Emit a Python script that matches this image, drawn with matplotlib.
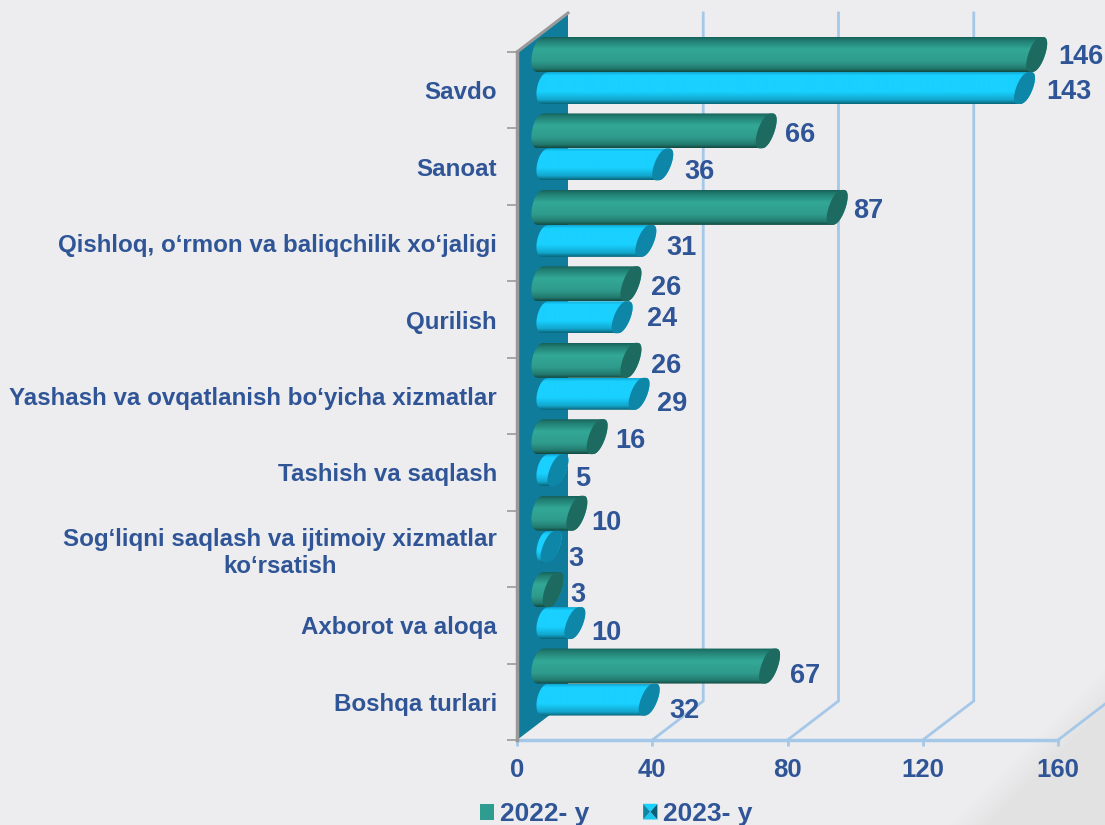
import numpy as np
import matplotlib
matplotlib.use('Agg')
import matplotlib.pyplot as plt
from matplotlib.colors import LinearSegmentedColormap
from matplotlib.patches import Patch, PathPatch, Polygon
from matplotlib.path import Path
from matplotlib.legend_handler import HandlerBase

categories = ['Savdo', 'Sanoat', 'Qishloq, o‘rmon va baliqchilik xo‘jaligi', 'Qurilish',
              'Yashash va ovqatlanish bo‘yicha xizmatlar', 'Tashish va saqlash',
              'Sog‘liqni saqlash va ijtimoiy xizmatlar\nko‘rsatish', 'Axborot va aloqa',
              'Boshqa turlari']
y2022 = [146, 66, 87, 26, 26, 16, 10, 3, 67]
y2023 = [143, 36, 31, 24, 29, 5, 3, 10, 32]
xticks = [0, 40, 80, 120, 160]

# nudges for the value labels, in pixels
nudge_x_2022 = [44, 34, 31, 35, 35, 33, 30, 25, 36]
nudge_y_2022 = [3, 4, 4, 4, 6, 4, 10, 5, 10]
nudge_x_2023 = [44, 37, 36, 40, 33, 25, 25, 32, 35]
nudge_y_2023 = [4, 8, 7, 2, 10, 9, 12, 10, 11]

BG = '#EDEDF0'
TXT = '#2F5597'
GRID = '#A6C8E8'
FONT = 'Liberation Sans'
W, H = 1105, 825
PX_L, PX_R, PX_T, PX_B = 517, 1058, 52, 740

fig = plt.figure(figsize=(W / 100, H / 100), dpi=100, facecolor=BG)

# darker diagonal corner in the lower right
bg = fig.add_axes([0, 0, 1, 1], zorder=0)
bg.axis('off')
xx, yy = np.meshgrid(np.arange(900, W), np.arange(640, H))
dist = (xx + yy - 1773) / np.sqrt(2)
shade = np.zeros(xx.shape + (4,))
shade[..., :3] = 0.89
shade[..., 3] = np.clip(dist / 30, 0, 1)
bg.imshow(shade, extent=(900, W, H, 640), aspect='auto', zorder=1)
bg.set_xlim(0, W)
bg.set_ylim(H, 0)

ax = fig.add_axes([PX_L / W, 1 - PX_B / H, (PX_R - PX_L) / W, (PX_B - PX_T) / H], zorder=1)
ax.patch.set_alpha(0)
sx = 541 / 160  # pixels per x unit
sy = 688 / 9    # pixels per category
depth_x = 51 / sx
depth_y = 39 / sy

# side wall
ax.add_patch(Polygon([(0, 0), (depth_x, -depth_y), (depth_x, 9 - depth_y), (0, 9)],
                     closed=True, fc='#0F7C9C', ec='none', clip_on=False, zorder=1))
ax.plot([0, depth_x], [0, -depth_y], color='#999999', lw=2.2, clip_on=False, zorder=2)

# grid lines: floor part, then back wall part
for v in xticks[1:]:
    ax.plot([v, v + depth_x, v + depth_x], [9, 9 - depth_y, -depth_y], color=GRID, lw=2,
            clip_on=False, zorder=1, solid_joinstyle='miter')
ax.plot([0, 160], [9, 9], color=GRID, lw=2.5, clip_on=False, zorder=1)


def cap(cx, cy, half, t, a, s):
    # tilted rounded outline, leaning right at the top
    c = np.cos(t)
    round_c = np.sign(c) * np.abs(c) ** 0.75
    return cx + a / sx * round_c - s / sx * np.sin(t), cy + half * np.sin(t)


def cylinder(i, value, top, height, start, scale_off, cmap, face):
    half = height / 2
    cy = i + top + half
    x_end = scale_off + value
    lx, ly = cap(start, cy, half, np.linspace(np.pi / 2, 3 * np.pi / 2, 40), 10, 3)
    rx, ry = cap(x_end, cy, half, np.linspace(-np.pi / 2, np.pi / 2, 40), 8.5, 5.5)
    body = np.r_[np.c_[rx, ry], np.c_[lx, ly]]
    clip = PathPatch(Path(np.r_[body, body[:1]]), transform=ax.transData)
    im = ax.imshow(np.linspace(0, 1, 128)[:, None], cmap=cmap, aspect='auto', origin='upper',
                   extent=(start - 5, x_end + 5, i + top + height, i + top), zorder=3)
    im.set_clip_box(fig.bbox)
    im.set_clip_path(clip)
    fx, fy = cap(x_end, cy, half, np.linspace(0, 2 * np.pi, 80), 8.5, 5.5)
    ax.add_patch(Polygon(np.c_[fx, fy], closed=True, fc=face, ec='none', clip_on=False, zorder=3.1))


green = LinearSegmentedColormap.from_list('g', [(0, '#17605A'), (0.08, '#1F7A6E'), (0.35, '#33A897'),
                                                (0.7, '#2F9B8C'), (0.9, '#227A6E'), (1, '#134840')])
cyan = LinearSegmentedColormap.from_list('c', [(0, '#10A8D2'), (0.1, '#19D0FF'), (0.62, '#19D0FF'),
                                               (0.87, '#12A6CC'), (1, '#0A6478')])

top_a, h_a = -15 / sy, 35 / sy
top_b, h_b = 20 / sy, 32 / sy
off_a, off_b = 26 / sx, 24 / sx
start_a, start_b = 25 / sx, 30 / sx

for i in range(len(categories)):
    cylinder(i, y2023[i], top_b, h_b, start_b, off_b, cyan, '#0E86A8')
    cylinder(i, y2022[i], top_a, h_a, start_a, off_a, green, '#1D6A60')
    ax.annotate(str(y2022[i]), (off_a + y2022[i], i + top_a + h_a / 2),
                xytext=(nudge_x_2022[i], -nudge_y_2022[i]), textcoords='offset pixels',
                ha='center', va='center', color=TXT, fontsize=19.5, fontweight='bold',
                family=FONT, annotation_clip=False, zorder=5)
    ax.annotate(str(y2023[i]), (off_b + y2023[i], i + top_b + h_b / 2),
                xytext=(nudge_x_2023[i], -nudge_y_2023[i]), textcoords='offset pixels',
                ha='center', va='center', color=TXT, fontsize=19.5, fontweight='bold',
                family=FONT, annotation_clip=False, zorder=5)

ax.set_xlim(0, 160)
ax.set_ylim(9, 0)
ax.set_xticks(xticks)
ax.set_xticklabels([str(v) for v in xticks], fontsize=18.5, fontweight='bold', color=TXT, family=FONT)
ax.tick_params(axis='x', length=4, width=2, color=GRID, pad=9)
ax.set_yticks(np.arange(len(categories)) + 0.5)
ax.set_yticklabels(categories, fontsize=17.35, fontweight='bold', color=TXT, family=FONT, ma='center')
ax.tick_params(axis='y', which='major', length=0, pad=14.5)
ax.set_yticks(np.arange(len(categories) + 1), minor=True)
ax.tick_params(axis='y', which='minor', length=7, width=1.2, color='#999999')
for name in ['top', 'right', 'bottom']:
    ax.spines[name].set_visible(False)
ax.spines['left'].set_color('#999999')
ax.spines['left'].set_linewidth(2.5)


class PyramidHandler(HandlerBase):
    def create_artists(self, legend, orig, xd, yd, w, h, fontsize, trans):
        x0, y0 = -xd, -yd
        c = (x0 + w / 2, y0 + h / 2)
        pts = [(x0, y0), (x0 + w, y0), (x0 + w, y0 + h), (x0, y0 + h)]
        cols = ['#1AC8EE', '#0C5F78', '#1AD0FF', '#0E86A8']
        return [Polygon([pts[k], pts[(k + 1) % 4], c], closed=True, fc=cols[k], ec='none', transform=trans)
                for k in range(4)]


h1 = Patch(fc='#2E9C8E', ec='none', label='2022- y')
h2 = Patch(fc='#1AC8EE', ec='none', label='2023- y')
leg = fig.legend(handles=[h1, h2], loc='center left', bbox_to_anchor=(480 / W, 1 - 814 / H), ncol=2,
                 frameon=False, handlelength=0.54, handleheight=0.54, handletextpad=0.23, columnspacing=2.03,
                 borderpad=0, borderaxespad=0,
                 prop={'family': FONT, 'weight': 'bold', 'size': 19},
                 labelcolor=TXT, handler_map={h2: PyramidHandler()})

fig.savefig('out.png', dpi=100, facecolor=BG)
